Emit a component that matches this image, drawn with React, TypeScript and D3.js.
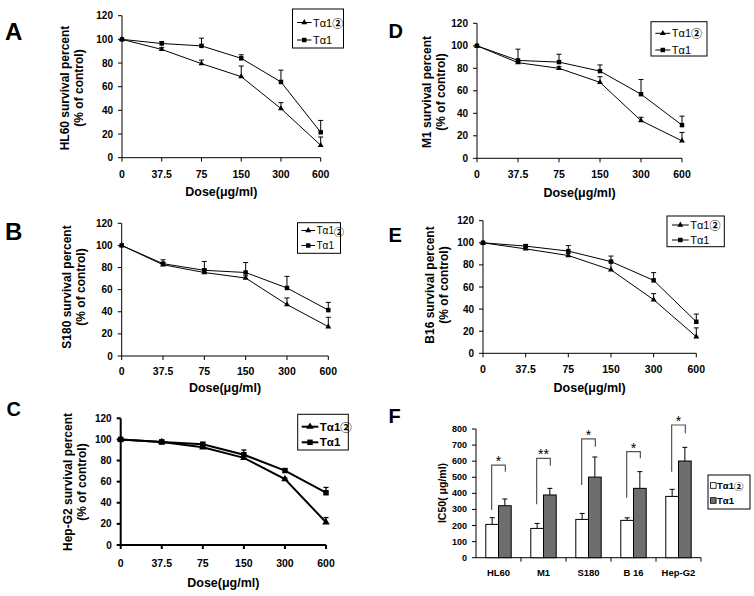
import React from "react";
import * as d3 from "d3";

// dose categories (equally spaced on the x axis)
const doses = ["0", "37.5", "75", "150", "300", "600"];
const survivalTicks = [0, 20, 40, 60, 80, 100, 120];

// A: HL60
const hl60Ta12 = [100, 91.5, 79.5, 68.5, 41.5, 10.5];
const hl60Ta12Err = [0, 1.5, 3, 9, 5, 7];
const hl60Ta1 = [100, 96.5, 94.5, 84, 64, 21.5];
const hl60Ta1Err = [0, 1.5, 6.5, 3, 10, 10];

// B: S180
const s180Ta12 = [100, 82.5, 75.5, 70.5, 46.5, 26.5];
const s180Ta12Err = [0, 2, 3, 2, 6, 8.5];
const s180Ta1 = [100, 83.5, 77.5, 75.5, 61.5, 41.5];
const s180Ta1Err = [0, 3.5, 8, 9, 10.5, 7];

// C: Hep-G2
const hepTa12 = [100, 97.5, 92.5, 82.5, 62.5, 21.5];
const hepTa12Err = [0, 1.5, 1.5, 2, 1, 4.5];
const hepTa1 = [100, 97.5, 95.5, 85.5, 70.5, 49.5];
const hepTa1Err = [0, 2, 1.5, 4.5, 1, 5];

// D: M1
const m1Ta12 = [100, 85, 80, 67.5, 33.5, 15.5];
const m1Ta12Err = [0, 1, 1.5, 5, 3, 7.5];
const m1Ta1 = [100, 87, 85.5, 77.5, 57, 29.5];
const m1Ta1Err = [0, 10, 7, 5.5, 13, 8];

// E: B16
const b16Ta12 = [100, 94.5, 88.5, 75.5, 48.5, 15];
const b16Ta12Err = [0, 1.5, 2, 7, 5.5, 8];
const b16Ta1 = [100, 97, 92.5, 83, 66, 28.5];
const b16Ta1Err = [0, 1.5, 5, 5, 7, 7];

// F: IC50
const cellLines = ["HL60", "M1", "S180", "B 16", "Hep-G2"];
const ic50Ticks = [0, 100, 200, 300, 400, 500, 600, 700, 800];
const ic50Ta12 = [207, 182, 238, 232, 381];
const ic50Ta12Err = [42, 31, 37, 16, 44];
const ic50Ta1 = [323, 390, 501, 431, 601];
const ic50Ta1Err = [42, 41, 125, 104, 85];
const bracketLow = [296, 332, 452, 373, 535];
const bracketTop = [576, 617, 738, 659, 825];
const bracketRightLow = [535, 572, 690, 618, 773];
const stars = ["*", "**", "*", "*", "*"];

const seriesNames = ["Tα1", "Tα1"];
const seriesSuffix = ["②", ""];

const FONT = "'Liberation Sans', Arial, sans-serif";
const CJK = "'Noto Sans CJK SC', 'DejaVu Sans'";

type Layout = {
  x0: number; x1: number; y0: number; yTop: number;
  letter: string; letterX: number; letterY: number; letterSize: number;
  ylab: string; ylabX1: number; ylabX2: number; ylabY: number;
  tickY: number; titleY: number;
  lgX: number; lgY: number; lgW: number; lgH: number;
  lgRow1: number; lgRow2: number; lgLine0: number; lgLine1: number; lgFont: number;
  heavy: boolean;
};

function SeriesLabel({ k }: { k: number }) {
  return (
    <>
      {seriesNames[k]}
      {seriesSuffix[k] && <tspan fontFamily={CJK} fontWeight="bold">{seriesSuffix[k]}</tspan>}
    </>
  );
}

function LinePanel({ L, tri, triErr, sq, sqErr }: {
  L: Layout; tri: number[]; triErr: number[]; sq: number[]; sqErr: number[];
}) {
  const x = d3.scalePoint<string>().domain(doses).range([L.x0, L.x1]);
  const y = d3.scaleLinear().domain([0, 120]).range([L.y0, L.yTop]);
  const line = d3.line<number>().x((_, i) => x(doses[i])!).y(d => y(d));
  const sw = L.heavy ? 2 : 1;
  const triPath = d3.symbol(d3.symbolTriangle, L.heavy ? 24 : 15)()!;
  const sqPath = d3.symbol(d3.symbolSquare, L.heavy ? 30 : 20)()!;
  const cx = (L.x0 + L.x1) / 2;

  const errBars = (vals: number[], errs: number[], key: string) =>
    vals.map((v, i) => errs[i] > 0 ? (
      <g key={key + i} stroke="#000" strokeWidth={L.heavy ? 1.3 : 1}>
        <line x1={x(doses[i])} x2={x(doses[i])} y1={y(v)} y2={y(v + errs[i])} />
        <line x1={x(doses[i])! - 2.5} x2={x(doses[i])! + 2.5} y1={y(v + errs[i])} y2={y(v + errs[i])} />
      </g>
    ) : null);

  return (
    <g fontFamily={FONT}>
      <text x={L.letterX} y={L.letterY} fontSize={L.letterSize} fontWeight="bold">{L.letter}</text>
      {/* y axis */}
      <line x1={L.x0} x2={L.x0} y1={L.y0} y2={L.yTop} stroke="#000" strokeWidth={sw} />
      {survivalTicks.map(t => (
        <g key={"yt" + t}>
          <line x1={L.x0 - 4} x2={L.x0} y1={y(t)} y2={y(t)} stroke="#000" strokeWidth={sw} />
          <text x={L.x0 - 9} y={y(t)} fontSize={10} fontWeight="bold" textAnchor="end" dominantBaseline="central">{t}</text>
        </g>
      ))}
      {/* x axis */}
      <line x1={L.x0} x2={L.x1} y1={L.y0} y2={L.y0} stroke="#000" strokeWidth={sw} />
      {doses.map(d => (
        <g key={"xt" + d}>
          <line x1={x(d)} x2={x(d)} y1={L.y0} y2={L.y0 + 4} stroke="#000" strokeWidth={sw} />
          <text x={x(d)} y={L.tickY} fontSize={10.5} fontWeight="bold" textAnchor="middle" dominantBaseline="central">{d}</text>
        </g>
      ))}
      <text x={cx} y={L.titleY} fontSize={12.5} fontWeight="bold" textAnchor="middle" dominantBaseline="central">Dose(μg/ml)</text>
      <g transform={`translate(${L.ylabX1},${L.ylabY}) rotate(-90)`}>
        <text fontSize={12} fontWeight="bold" textAnchor="middle" dominantBaseline="central">{L.ylab}</text>
      </g>
      <g transform={`translate(${L.ylabX2},${L.ylabY}) rotate(-90)`}>
        <text fontSize={12} fontWeight="bold" textAnchor="middle" dominantBaseline="central">(% of control)</text>
      </g>
      {/* series */}
      <path d={line(tri)!} fill="none" stroke="#000" strokeWidth={sw} />
      <path d={line(sq)!} fill="none" stroke="#000" strokeWidth={sw} />
      {errBars(tri, triErr, "te")}
      {errBars(sq, sqErr, "se")}
      {tri.map((v, i) => (
        <path key={"tm" + i} d={triPath} transform={`translate(${x(doses[i])},${y(v)})`} fill="#000" />
      ))}
      {sq.map((v, i) => (
        <path key={"sm" + i} d={sqPath} transform={`translate(${x(doses[i])},${y(v)})`} fill="#000" />
      ))}
      {/* legend */}
      <rect x={L.lgX} y={L.lgY} width={L.lgW} height={L.lgH} fill="#fff" stroke="#000" strokeWidth={1} />
      {[L.lgRow1, L.lgRow2].map((ry, k) => (
        <g key={"lg" + k}>
          <line x1={L.lgLine0} x2={L.lgLine1} y1={ry} y2={ry} stroke="#000" strokeWidth={sw} />
          <path d={k === 0 ? triPath : sqPath} transform={`translate(${(L.lgLine0 + L.lgLine1) / 2},${ry})`} fill="#000" />
          <text x={L.lgLine1 + 1.5} y={ry} fontSize={L.lgFont} fontWeight={L.heavy ? "bold" : "normal"} dominantBaseline="central">
            <SeriesLabel k={k} />
          </text>
        </g>
      ))}
    </g>
  );
}

const layoutA: Layout = {
  x0: 122, x1: 320.7, y0: 157.7, yTop: 15.7,
  letter: "A", letterX: 5, letterY: 40, letterSize: 24,
  ylab: "HL60 survival percent", ylabX1: 65, ylabX2: 79, ylabY: 88,
  tickY: 174, titleY: 192,
  lgX: 292.5, lgY: 9, lgW: 51, lgH: 39, lgRow1: 22.5, lgRow2: 40, lgLine0: 297, lgLine1: 311.5, lgFont: 11,
  heavy: false,
};
const layoutB: Layout = {
  x0: 121.7, x1: 328.3, y0: 356, yTop: 223.3,
  letter: "B", letterX: 5, letterY: 240, letterSize: 24,
  ylab: "S180 survival percent", ylabX1: 66.7, ylabX2: 81, ylabY: 287,
  tickY: 371, titleY: 388.3,
  lgX: 297.5, lgY: 222.7, lgW: 43, lgH: 30.6, lgRow1: 230.5, lgRow2: 245.5, lgLine0: 301.5, lgLine1: 315, lgFont: 10,
  heavy: false,
};
const layoutC: Layout = {
  x0: 120.7, x1: 326, y0: 545, yTop: 418.3,
  letter: "C", letterX: 6.5, letterY: 416, letterSize: 20,
  ylab: "Hep-G2 survival percent", ylabX1: 68, ylabX2: 81.7, ylabY: 482,
  tickY: 562.7, titleY: 582.7,
  lgX: 297.7, lgY: 414.3, lgW: 50.6, lgH: 35.7, lgRow1: 426.7, lgRow2: 442.3, lgLine0: 301.7, lgLine1: 318.3, lgFont: 11.5,
  heavy: true,
};
const layoutD: Layout = {
  x0: 477, x1: 682, y0: 158.3, yTop: 23.3,
  letter: "D", letterX: 388.5, letterY: 38.3, letterSize: 20,
  ylab: "M1 survival percent", ylabX1: 427, ylabX2: 441, ylabY: 92,
  tickY: 174, titleY: 192.7,
  lgX: 651, lgY: 21.7, lgW: 56, lgH: 34.3, lgRow1: 33.3, lgRow2: 50, lgLine0: 655.3, lgLine1: 670.3, lgFont: 11,
  heavy: false,
};
const layoutE: Layout = {
  x0: 483, x1: 696.3, y0: 353.3, yTop: 220.7,
  letter: "E", letterX: 388.5, letterY: 241.7, letterSize: 20,
  ylab: "B16 survival percent", ylabX1: 430, ylabX2: 444, ylabY: 285,
  tickY: 369, titleY: 387.7,
  lgX: 667, lgY: 216, lgW: 57.3, lgH: 30.7, lgRow1: 225, lgRow2: 240, lgLine0: 672, lgLine1: 688.7, lgFont: 11,
  heavy: false,
};

function BarPanel() {
  const x0 = 476, x1 = 701, y0 = 557.7, yTop = 429;
  const xb = d3.scaleBand<string>().domain(cellLines).range([x0, x1]).padding(0);
  const y = d3.scaleLinear().domain([0, 800]).range([y0, yTop]);
  const bw = 12.7;
  const gray = "#6e6e6e";
  return (
    <g fontFamily={FONT}>
      <text x={388.5} y={423.3} fontSize={20} fontWeight="bold">F</text>
      <line x1={x0} x2={x0} y1={y0} y2={yTop} stroke="#000" />
      {ic50Ticks.map(t => (
        <g key={"ft" + t}>
          <line x1={x0 - 4} x2={x0} y1={y(t)} y2={y(t)} stroke="#000" />
          <text x={x0 - 9} y={y(t)} fontSize={9} fontWeight="bold" textAnchor="end" dominantBaseline="central">{t}</text>
        </g>
      ))}
      <line x1={x0} x2={x1} y1={y0} y2={y0} stroke="#000" />
      {cellLines.map(c => (
        <g key={"fx" + c}>
          <line x1={xb(c)! + xb.bandwidth()} x2={xb(c)! + xb.bandwidth()} y1={y0} y2={y0 + 4} stroke="#000" />
          <text x={xb(c)! + xb.bandwidth() / 2} y={572.7} fontSize={9.5} fontWeight="bold" textAnchor="middle" dominantBaseline="central">{c}</text>
        </g>
      ))}
      <g transform={`translate(442,493) rotate(-90)`}>
        <text fontSize={10.5} fontWeight="bold" textAnchor="middle" dominantBaseline="central">IC50( μg/ml)</text>
      </g>
      {cellLines.map((c, i) => {
        const mid = xb(c)! + xb.bandwidth() / 2;
        const wc = mid - bw / 2;
        const gc = mid + bw / 2;
        return (
          <g key={"fb" + c}>
            <line x1={wc} x2={wc} y1={y(ic50Ta12[i])} y2={y(ic50Ta12[i] + ic50Ta12Err[i])} stroke="#000" />
            <line x1={wc - 2.5} x2={wc + 2.5} y1={y(ic50Ta12[i] + ic50Ta12Err[i])} y2={y(ic50Ta12[i] + ic50Ta12Err[i])} stroke="#000" />
            <line x1={gc} x2={gc} y1={y(ic50Ta1[i])} y2={y(ic50Ta1[i] + ic50Ta1Err[i])} stroke="#000" />
            <line x1={gc - 2.5} x2={gc + 2.5} y1={y(ic50Ta1[i] + ic50Ta1Err[i])} y2={y(ic50Ta1[i] + ic50Ta1Err[i])} stroke="#000" />
            <rect x={mid - bw} y={y(ic50Ta12[i])} width={bw} height={y0 - y(ic50Ta12[i])} fill="#fff" stroke="#000" />
            <rect x={mid} y={y(ic50Ta1[i])} width={bw} height={y0 - y(ic50Ta1[i])} fill={gray} stroke="#000" />
            <path d={`M${wc - 0.5},${y(bracketLow[i])}V${y(bracketTop[i])}H${gc + 0.5}V${y(bracketRightLow[i])}`}
              fill="none" stroke="#555" strokeWidth={1.2} />
            <text x={mid} y={y(bracketTop[i]) + 1} fontSize={14} textAnchor="middle">{stars[i]}</text>
          </g>
        );
      })}
      <rect x={708} y={475} width={42} height={34} fill="#fff" stroke="#000" />
      {[485.5, 500.5].map((ry, k) => (
        <g key={"fl" + k}>
          <rect x={710.5} y={ry - 2.8} width={5.6} height={5.6} fill={k === 0 ? "#fff" : gray} stroke="#000" strokeWidth={0.8} />
          <text x={717} y={ry} fontSize={9.5} fontWeight="bold" dominantBaseline="central">
            <SeriesLabel k={k} />
          </text>
        </g>
      ))}
    </g>
  );
}

export default function App() {
  return (
    <svg width={754} height={596} style={{ position: "absolute", left: 0, top: 0, background: "#fff" }}>
      <rect width={754} height={596} fill="#fff" />
      <LinePanel L={layoutA} tri={hl60Ta12} triErr={hl60Ta12Err} sq={hl60Ta1} sqErr={hl60Ta1Err} />
      <LinePanel L={layoutB} tri={s180Ta12} triErr={s180Ta12Err} sq={s180Ta1} sqErr={s180Ta1Err} />
      <LinePanel L={layoutC} tri={hepTa12} triErr={hepTa12Err} sq={hepTa1} sqErr={hepTa1Err} />
      <LinePanel L={layoutD} tri={m1Ta12} triErr={m1Ta12Err} sq={m1Ta1} sqErr={m1Ta1Err} />
      <LinePanel L={layoutE} tri={b16Ta12} triErr={b16Ta12Err} sq={b16Ta1} sqErr={b16Ta1Err} />
      <BarPanel />
    </svg>
  );
}
